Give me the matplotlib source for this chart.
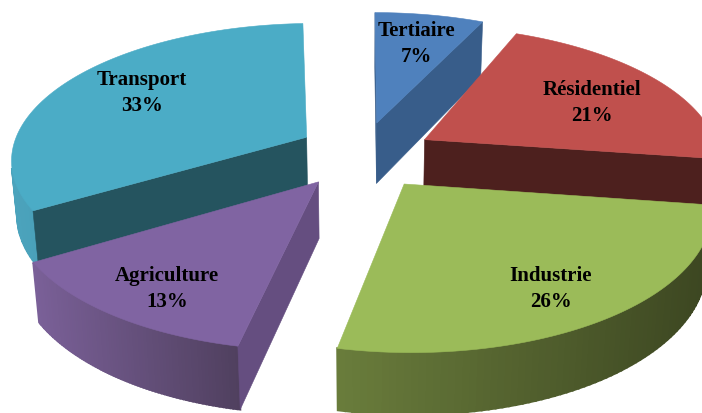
import numpy as np
import matplotlib
matplotlib.use('Agg')
import matplotlib.pyplot as plt
from matplotlib.patches import Polygon

# --- Data ---
labels = ['Tertiaire', 'Résidentiel', 'Industrie', 'Agriculture', 'Transport']
shares = [7, 21, 26, 13, 33]

# --- Styles (top, side wall, rim left, rim right) ---
top_colors = ['#4f81bd', '#c0504d', '#9bbb59', '#8064a2', '#4bacc6']
wall_colors = ['#385d8a', '#4d201e', '#5b6b33', '#654e80', '#25545f']
rim_left = ['#385d8a', '#5a2523', '#6a7d3c', '#7a6098', '#4ba3bc']
rim_right = ['#385d8a', '#4d201e', '#3c4621', '#50405f', '#3f8ba1']
label_xy = [(416, 44), (592, 103), (551, 289), (167, 289), (142, 93)]
draw_order = [0, 1, 4, 3, 2]

# --- View of the pie, fitted by eye ---
start_angle = 92.5
explode = 0.22
heights = [0.24, 0.21, 0.21, 0.215, 0.21]
angle_shift = [-2.5, 0, 0, 0, 0]
nudge_x = [0, 6, 3, -6, 0]   # pixels
nudge_y = [-5, -2, 3, 1, -5]
scale = 295.0
center_x, center_y = 363.0, 157.0
sin_e, cos_e = 0.457, 0.89
view_dist = 5.9


def project(x, y, z):
    depth = 1 + (y * cos_e - z * sin_e) / view_dist
    up = y * sin_e + z * cos_e
    return center_x + scale * x / depth, center_y - scale * up / depth


def mix(c1, c2, t):
    a = np.array(matplotlib.colors.to_rgb(c1))
    b = np.array(matplotlib.colors.to_rgb(c2))
    return tuple(a + (b - a) * t)


def area(pts):
    xs, ys = zip(*pts)
    return sum(xs[i] * ys[(i + 1) % len(pts)] - xs[(i + 1) % len(pts)] * ys[i] for i in range(len(pts)))


fig = plt.figure(figsize=(7.02, 4.14), dpi=100)
ax = fig.add_axes([0, 0, 1, 1])
ax.set_xlim(0, 702)
ax.set_ylim(414, 0)
ax.axis('off')

# --- Angles come from the shares ---
spans = np.array(shares) / sum(shares) * 360
ends = start_angle - np.cumsum(spans)
starts = ends + spans

for i in draw_order:
    a1, a2 = starts[i] + angle_shift[i], ends[i] + angle_shift[i]
    mid = np.radians((a1 + a2) / 2)
    ox, oy = explode * np.cos(mid), explode * np.sin(mid)
    angles = np.radians(np.linspace(a1, a2, 80))
    xs = np.concatenate([[ox], ox + np.cos(angles)])
    ys = np.concatenate([[oy], oy + np.sin(angles)])

    top = [project(x, y, 0) for x, y in zip(xs, ys)]
    bot = [project(x, y, -heights[i]) for x, y in zip(xs, ys)]
    top = [(p[0] + nudge_x[i], p[1] + nudge_y[i]) for p in top]
    bot = [(p[0] + nudge_x[i], p[1] + nudge_y[i]) for p in bot]
    n = len(top)
    rim_x = [p[0] for p in top[1:]]
    faces = []
    for k in range(n):
        m = (k + 1) % n
        quad = [top[k], top[m], bot[m], bot[k]]
        # only the faces turned to the viewer
        if area(quad) > 0:
            continue
        if k == 0 or k == n - 1:
            faces.append((1, quad, wall_colors[i]))
        else:
            t = (top[k][0] - min(rim_x)) / (max(rim_x) - min(rim_x))
            faces.append((0, quad, mix(rim_left[i], rim_right[i], t)))
    # rim first with a wide edge so no seams show, walls over it
    for is_wall, quad, color in sorted(faces, key=lambda f: f[0]):
        ax.add_patch(Polygon(quad, closed=True, facecolor=color, edgecolor=color,
                             linewidth=0.4 if is_wall else 1.5))
    ax.add_patch(Polygon(top, closed=True, facecolor=top_colors[i], edgecolor=top_colors[i], linewidth=0.4))

for i, name in enumerate(labels):
    ax.text(label_xy[i][0], label_xy[i][1], f'{name}\n{shares[i]}%', ha='center', va='center',
            family='Liberation Serif', fontweight='bold', fontsize=15, linespacing=1.35,
            color='black')

plt.savefig('out.png', dpi=100)
